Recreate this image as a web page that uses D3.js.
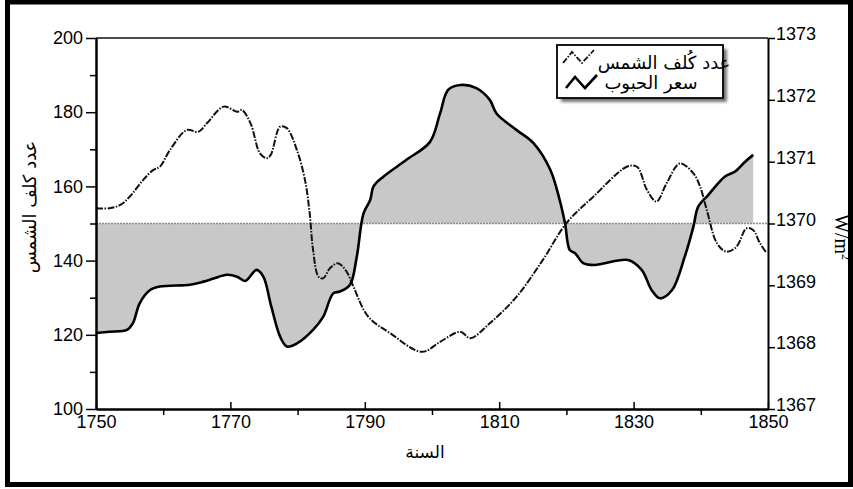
<!DOCTYPE html>
<html>
<head>
<meta charset="utf-8">
<script src="https://cdn.jsdelivr.net/npm/d3@7/dist/d3.min.js"></script>
<style>
  html, body { margin: 0; padding: 0; background: #fff; }
  svg { display: block; }
  .tick text { font-family: "Liberation Sans", Arial, sans-serif; }
</style>
</head>
<body>
<svg id="chart" width="853" height="489"></svg>
<script>
// ---- Data ----
// Sunspot number (left axis), dash-dot curve
const sunspotYears = [1750, 1752, 1753.6, 1755, 1757, 1758.5, 1759.5, 1761, 1763.5, 1765.2, 1766.5, 1769, 1771, 1771.7, 1773, 1774.4, 1775.4, 1776, 1777.4, 1778.4, 1779.9, 1781.1, 1781.8, 1782.3, 1783.1, 1783.8, 1784.8, 1786, 1787.3, 1788.3, 1790.5, 1793.8, 1798.5, 1801.2, 1804.2, 1805.7, 1808.6, 1812.6, 1816.5, 1820, 1824, 1829, 1830.5, 1832, 1833.4, 1834.9, 1836.9, 1838.9, 1839.9, 1840.9, 1842.4, 1843.8, 1845.3, 1846.8, 1847.8, 1848.8, 1849.8];
const sunspotValues = [154.1, 154.1, 155.0, 157.2, 161.7, 164.4, 165.3, 169.8, 175.2, 174.7, 177.0, 181.5, 180.1, 180.6, 177.0, 168.9, 167.6, 168.5, 176.1, 175.7, 169.8, 161.7, 152.7, 142.9, 135.7, 135.2, 137.9, 139.3, 137.0, 133.0, 124.9, 120.4, 115.4, 118.1, 120.8, 119.1, 123.1, 130.3, 140.2, 150.1, 157.2, 165.3, 165.3, 159.0, 155.9, 160.8, 166.2, 163.5, 159.9, 153.6, 144.7, 142.4, 143.7, 148.7, 148.2, 144.7, 142.0];

// Solid curve (right axis, W/m^2)
const solidYears = [1750, 1752, 1754.6, 1755.5, 1756.5, 1758, 1759.5, 1764, 1766, 1767.5, 1769.5, 1771, 1772.2, 1773.9, 1774.9, 1776.1, 1777.4, 1778.4, 1779.9, 1782.3, 1783.8, 1785.3, 1786.3, 1787.8, 1788.8, 1789.8, 1790.8, 1791.3, 1792.8, 1796.2, 1799.7, 1801.2, 1802.4, 1804.2, 1806.6, 1808.6, 1809.6, 1812.6, 1815.1, 1817.6, 1819, 1819.8, 1820.5, 1821.3, 1822.5, 1824.2, 1829.2, 1831.2, 1832.7, 1833.9, 1835.7, 1837.6, 1838.9, 1839.6, 1841.1, 1843.6, 1845.1, 1846.6, 1847.8];
const solidValues = [1368.23, 1368.25, 1368.28, 1368.39, 1368.71, 1368.92, 1368.98, 1369.01, 1369.06, 1369.11, 1369.17, 1369.14, 1369.07, 1369.25, 1369.14, 1368.65, 1368.17, 1368.01, 1368.06, 1368.28, 1368.49, 1368.87, 1368.90, 1369.01, 1369.46, 1370.16, 1370.38, 1370.60, 1370.76, 1371.03, 1371.32, 1371.78, 1372.16, 1372.24, 1372.19, 1372.00, 1371.78, 1371.51, 1371.30, 1370.87, 1370.38, 1370.00, 1369.57, 1369.52, 1369.36, 1369.33, 1369.41, 1369.25, 1368.92, 1368.79, 1368.92, 1369.46, 1369.95, 1370.27, 1370.46, 1370.76, 1370.84, 1371.00, 1371.11];

const baselineValue = 1370;

// Tick labels
const xTickValues = [1750, 1770, 1790, 1810, 1830, 1850];
const xMinorTicks = [1760, 1780, 1800, 1820, 1840];
const leftTickValues = [100, 120, 140, 160, 180, 200];
const leftMinorTicks = [110, 130, 150, 170, 190];
const rightTickValues = [1367, 1368, 1369, 1370, 1371, 1372, 1373];

// Texts
const leftAxisTitle = "عدد كلف الشمس";
const bottomAxisTitle = "السنة";
const legendLabels = ["عدد كُلف الشمس", "سعر الحبوب"];

// ---- Chart ----
const svg = d3.select("#chart");
const x = d3.scaleLinear().domain([1750, 1850]).range([96, 768]);
const yL = d3.scaleLinear().domain([100, 200]).range([409, 38]);
const yR = d3.scaleLinear().domain([1367, 1373]).range([409, 38]);

const sunspot = sunspotYears.map((yr, i) => ({yr, v: sunspotValues[i]}));
const solid = solidYears.map((yr, i) => ({yr, v: solidValues[i]}));

const curve = d3.curveCatmullRom.alpha(0.5);

// Outer frame
svg.append("rect").attr("x", 7.5).attr("y", 2).attr("width", 843).attr("height", 482.5)
  .attr("fill", "none").attr("stroke", "#000").attr("stroke-width", 5);

// Gray fill between solid curve and baseline
svg.append("path").datum(solid)
  .attr("d", d3.area().curve(curve).x(d => x(d.yr)).y0(yR(baselineValue)).y1(d => yR(d.v)))
  .attr("fill", "#c8c8c8");

// Baseline
svg.append("line").attr("x1", x(1750)).attr("x2", x(1850))
  .attr("y1", yR(baselineValue)).attr("y2", yR(baselineValue))
  .attr("stroke", "#8a8a8a").attr("stroke-width", 1.3).attr("stroke-dasharray", "2,1");

// Top frame line
svg.append("line").attr("x1", x(1750)).attr("x2", x(1850)).attr("y1", yL(200)).attr("y2", yL(200))
  .attr("stroke", "#111").attr("stroke-width", 1.5);

// Sunspot dash-dot curve
svg.append("path").datum(sunspot)
  .attr("d", d3.line().curve(curve).x(d => x(d.yr)).y(d => yL(d.v)))
  .attr("fill", "none").attr("stroke", "#111").attr("stroke-width", 2)
  .attr("stroke-dasharray", "7,1.5,1.5,1.5");

// Solid curve
svg.append("path").datum(solid)
  .attr("d", d3.line().curve(curve).x(d => x(d.yr)).y(d => yR(d.v)))
  .attr("fill", "none").attr("stroke", "#000").attr("stroke-width", 2.6)
  .attr("stroke-linejoin", "round");

// Axes
function styleAxis(g) {
  g.select(".domain").attr("stroke", "#000").attr("stroke-width", 2);
  g.selectAll(".tick line").attr("stroke", "#000").attr("stroke-width", 1.5);
  g.selectAll(".tick text").attr("fill", "#000").attr("font-size", 18);
}

const gL = svg.append("g").attr("transform", `translate(${x(1750)},0)`)
  .call(d3.axisLeft(yL).tickValues(leftTickValues).tickSize(10).tickPadding(3).tickSizeOuter(0));
styleAxis(gL);
const gLm = svg.append("g").attr("transform", `translate(${x(1750)},0)`)
  .call(d3.axisLeft(yL).tickValues(leftMinorTicks).tickSize(6).tickFormat("").tickSizeOuter(0));
styleAxis(gLm);

const gR = svg.append("g").attr("transform", `translate(${x(1850)},0)`)
  .call(d3.axisRight(yR).tickValues(rightTickValues).tickSize(7).tickPadding(1).tickSizeOuter(0).tickFormat(d3.format("d")));
styleAxis(gR);
gR.selectAll(".tick text").attr("dy", "0.1em");

const gB = svg.append("g").attr("transform", `translate(0,${yL(100)})`)
  .call(d3.axisBottom(x).tickValues(xTickValues).tickSize(-7).tickPadding(5).tickSizeOuter(0).tickFormat(d3.format("d")));
styleAxis(gB);
gB.selectAll(".tick text").attr("dy", "0.8em");
const gBm = svg.append("g").attr("transform", `translate(0,${yL(100)})`)
  .call(d3.axisBottom(x).tickValues(xMinorTicks).tickSize(6).tickFormat("").tickSizeOuter(0));
styleAxis(gBm);

// Axis titles
svg.append("text").attr("transform", "translate(36,207) rotate(-90)")
  .attr("text-anchor", "middle").attr("font-family", "DejaVu Sans, sans-serif")
  .attr("font-size", 18).attr("fill", "#000").text(leftAxisTitle);

svg.append("text").attr("x", 425).attr("y", 458)
  .attr("text-anchor", "middle").attr("font-family", "DejaVu Sans, sans-serif")
  .attr("font-size", 17).attr("fill", "#000").text(bottomAxisTitle);

const rt = svg.append("text").attr("transform", "translate(835,237) rotate(90)")
  .attr("text-anchor", "middle").attr("font-family", "Liberation Serif, serif")
  .attr("font-size", 20).attr("fill", "#000");
rt.append("tspan").text("W/m");
rt.append("tspan").attr("dy", "-0.6em").attr("font-size", 12).text("2");

// Legend
const defs = svg.append("defs");
const f = defs.append("filter").attr("id", "shadow").attr("x", "-10%").attr("y", "-20%").attr("width", "130%").attr("height", "160%");
f.append("feGaussianBlur").attr("stdDeviation", 1.5);

const lg = svg.append("g");
lg.append("rect").attr("x", 561).attr("y", 49).attr("width", 166).attr("height", 53)
  .attr("fill", "#777").attr("filter", "url(#shadow)");
lg.append("rect").attr("x", 557).attr("y", 45).attr("width", 166).attr("height", 53)
  .attr("fill", "#fff").attr("stroke", "#000").attr("stroke-width", 1.8);

const zig = [[0, 12], [9, 1], [19, 12], [31, -1]];
lg.append("path").attr("d", d3.line()(zig.map(p => [563 + p[0], 51 + p[1]])))
  .attr("fill", "none").attr("stroke", "#111").attr("stroke-width", 1.8)
  .attr("stroke-dasharray", "6,1.5,1.5,1.5");
lg.append("path").attr("d", d3.line()(zig.map(p => [566 + p[0], 76 + p[1]])))
  .attr("fill", "none").attr("stroke", "#000").attr("stroke-width", 2.6).attr("stroke-linejoin", "miter");

lg.append("text").attr("x", 664).attr("y", 69).attr("text-anchor", "middle")
  .attr("font-family", "DejaVu Sans, sans-serif").attr("font-size", 18).attr("fill", "#000").text(legendLabels[0]);
lg.append("text").attr("x", 651).attr("y", 89).attr("text-anchor", "middle")
  .attr("font-family", "DejaVu Sans, sans-serif").attr("font-size", 18).attr("fill", "#000").text(legendLabels[1]);
</script>
</body>
</html>
